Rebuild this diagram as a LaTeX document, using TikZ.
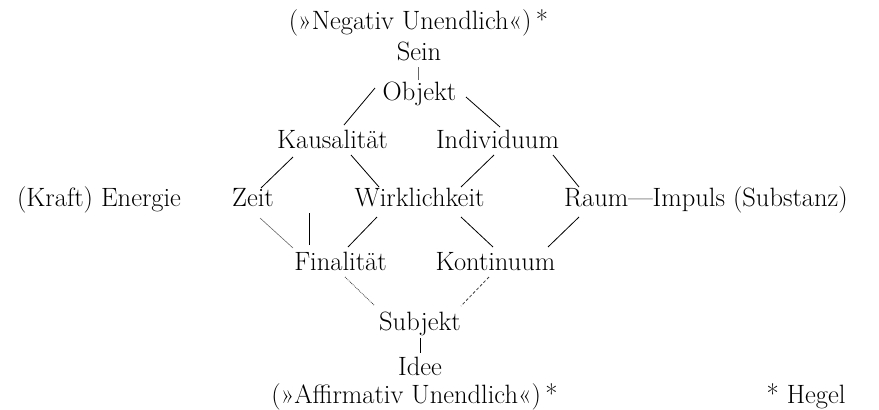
\documentclass[tikz,border=0pt]{standalone}
\begin{document}
\begin{tikzpicture}[x=1pt,y=-1pt,
  lbl/.style={inner sep=0pt,anchor=base,font=\fontsize{26.5}{30}\selectfont},
  con/.style={line width=0.8pt,black},
  faint/.style={line width=0.6pt,black!60},
  dotl/.style={line width=0.8pt,black!75,densely dotted},
  dashl/.style={line width=0.8pt,black!75,dash pattern=on 3pt off 2pt}]
\useasboundingbox (0,0) rectangle (879,410);
\node[lbl] (neg) at (418.5,29) {(»Negativ Unendlich«)\,*};
\node[lbl] (sein) at (419,60) {Sein};
\node[lbl] (obj) at (419.5,100) {Objekt};
\node[lbl] (kaus) at (332.5,148) {Kausalität};
\node[lbl] (indiv) at (497.5,148) {Individuum};
\node[lbl] (energie) at (99,206) {(Kraft) Energie};
\node[lbl] (zeit) at (253,206) {Zeit};
\node[lbl] (wirk) at (419.5,206) {Wirklichkeit};
\node[lbl,anchor=base west] (raum) at (564,206) {Raum---Impuls (Substanz)};
\node[lbl] (final) at (340.5,270) {Finalität};
\node[lbl] (kont) at (495.5,270) {Kontinuum};
\node[lbl] (subj) at (420,330) {Subjekt};
\node[lbl] (idee) at (420,375) {Idee};
\node[lbl] (aff) at (414.5,403) {(»Affirmativ Unendlich«)\,*};
\node[lbl] (hegel) at (806,403) {* Hegel};
% connectors
\draw[faint] ([shift={(-1,7)}]sein.base) -- ([shift={(-1.5,-20)}]obj.base);
\draw[con] ([shift={(-44.5,-12)}]obj.base) -- ([shift={(11.5,-23)}]kaus.base);
\draw[con] ([shift={(46.5,-3)}]obj.base) -- ([shift={(2.5,-21)}]indiv.base);
\draw[con] ([shift={(-39.5,9)}]kaus.base) -- ([shift={(8,-18)}]zeit.base);
\draw[con] ([shift={(18.5,7)}]kaus.base) -- ([shift={(-40.5,-19)}]wirk.base);
\draw[con] ([shift={(-3.5,7)}]indiv.base) -- ([shift={(41.5,-19)}]wirk.base);
\draw[con] ([shift={(55.5,7)}]indiv.base) -- ([shift={(15,-19)}]raum.base west);
\draw[faint] ([shift={(7,12)}]zeit.base) -- ([shift={(-47.5,-22)}]final.base);
\draw[con] ([shift={(-31.5,-25)}]final.base) -- ++(0,-32);
\draw[con] ([shift={(-42.5,11)}]wirk.base) -- ([shift={(7.5,-23)}]final.base);
\draw[con] ([shift={(41.5,11)}]wirk.base) -- ([shift={(-2.5,-23)}]kont.base);
\draw[con] ([shift={(15,11)}]raum.base west) -- ([shift={(52.5,-23)}]kont.base);
\draw[dotl] ([shift={(4.5,7)}]final.base) -- ([shift={(-46,-25)}]subj.base);
\draw[dashl] ([shift={(-6.5,7)}]kont.base) -- ([shift={(41,-24)}]subj.base);
\draw[con] ([shift={(0,8)}]subj.base) -- ([shift={(0,-22)}]idee.base);
\end{tikzpicture}
\end{document}
